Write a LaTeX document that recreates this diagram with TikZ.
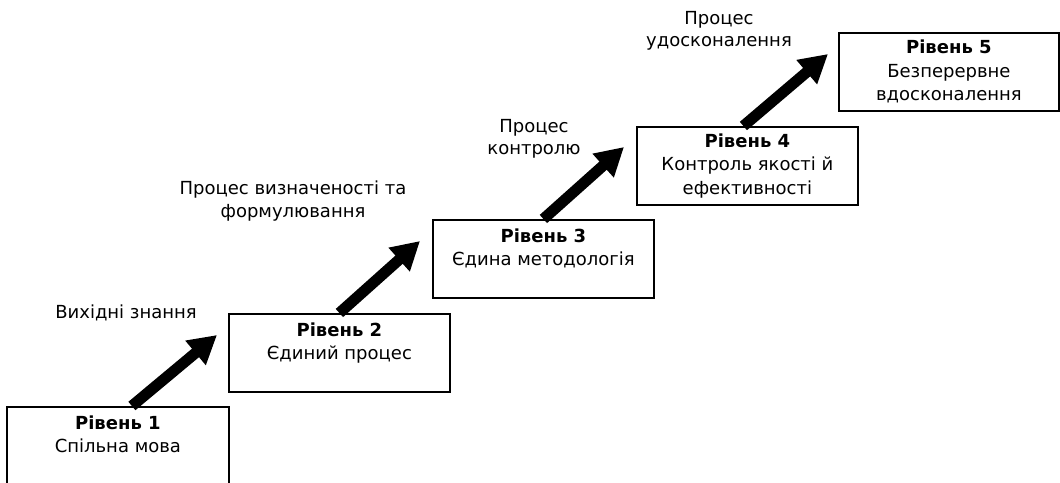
\documentclass[tikz,border=0pt]{standalone}
\usepackage{fontspec}
\setmainfont{DejaVu Sans}
\usetikzlibrary{arrows.meta,positioning}

\tikzset{
  level/.style={draw, line width=0.9pt, anchor=north west, align=center,
    minimum width=110.5pt, minimum height=39pt, inner sep=2pt,
    font=\fontsize{9}{11.75}\selectfont},
  proc/.style={align=center, inner sep=1pt, font=\fontsize{9}{11.25}\selectfont},
  stepup/.style={line width=5.5pt, -{Triangle[length=14pt,width=15pt]}}
}

\begin{document}
\begin{tikzpicture}[x=0.5pt,y=-0.5pt]
\useasboundingbox (0,0) rectangle (1060,482);

\node[level, minimum width=111pt] (1) at (6,406){\textbf{Рівень 1}\\Спільна мова\\\mbox{}};
\node[level] (2) at (228,313){\textbf{Рівень 2}\\Єдиний процес\\\mbox{}};
\node[level] (3) at (432,219){\textbf{Рівень 3}\\Єдина методологія\\\mbox{}};
\node[level] (4) at (636,126){\textbf{Рівень 4}\\Контроль якості й\\ефективності};
\node[level, minimum width=110pt] (5) at (838,32){\textbf{Рівень 5}\\Безперервне\\вдосконалення};

\node[proc] (p1) at (126,313){Вихідні знання};
\node[proc] (p2) at (293,201){Процес визначеності та\\формулювання};
\node[proc] (p3) at (534,139){Процес\\контролю};
\node[proc] (p4) at (719,31){Процес\\удосконалення};

\coordinate (a1) at (217,335);
\coordinate (a2) at (420,241);
\coordinate (a3) at (624,147);
\coordinate (a4) at (828,54);

\draw[stepup] ([xshift=7pt]1.north) -- (a1);
\draw[stepup] (2.north) -- (a2);
\draw[stepup] (3.north) -- (a3);
\draw[stepup] ([xshift=-2pt]4.north) -- (a4);

\end{tikzpicture}
\end{document}
